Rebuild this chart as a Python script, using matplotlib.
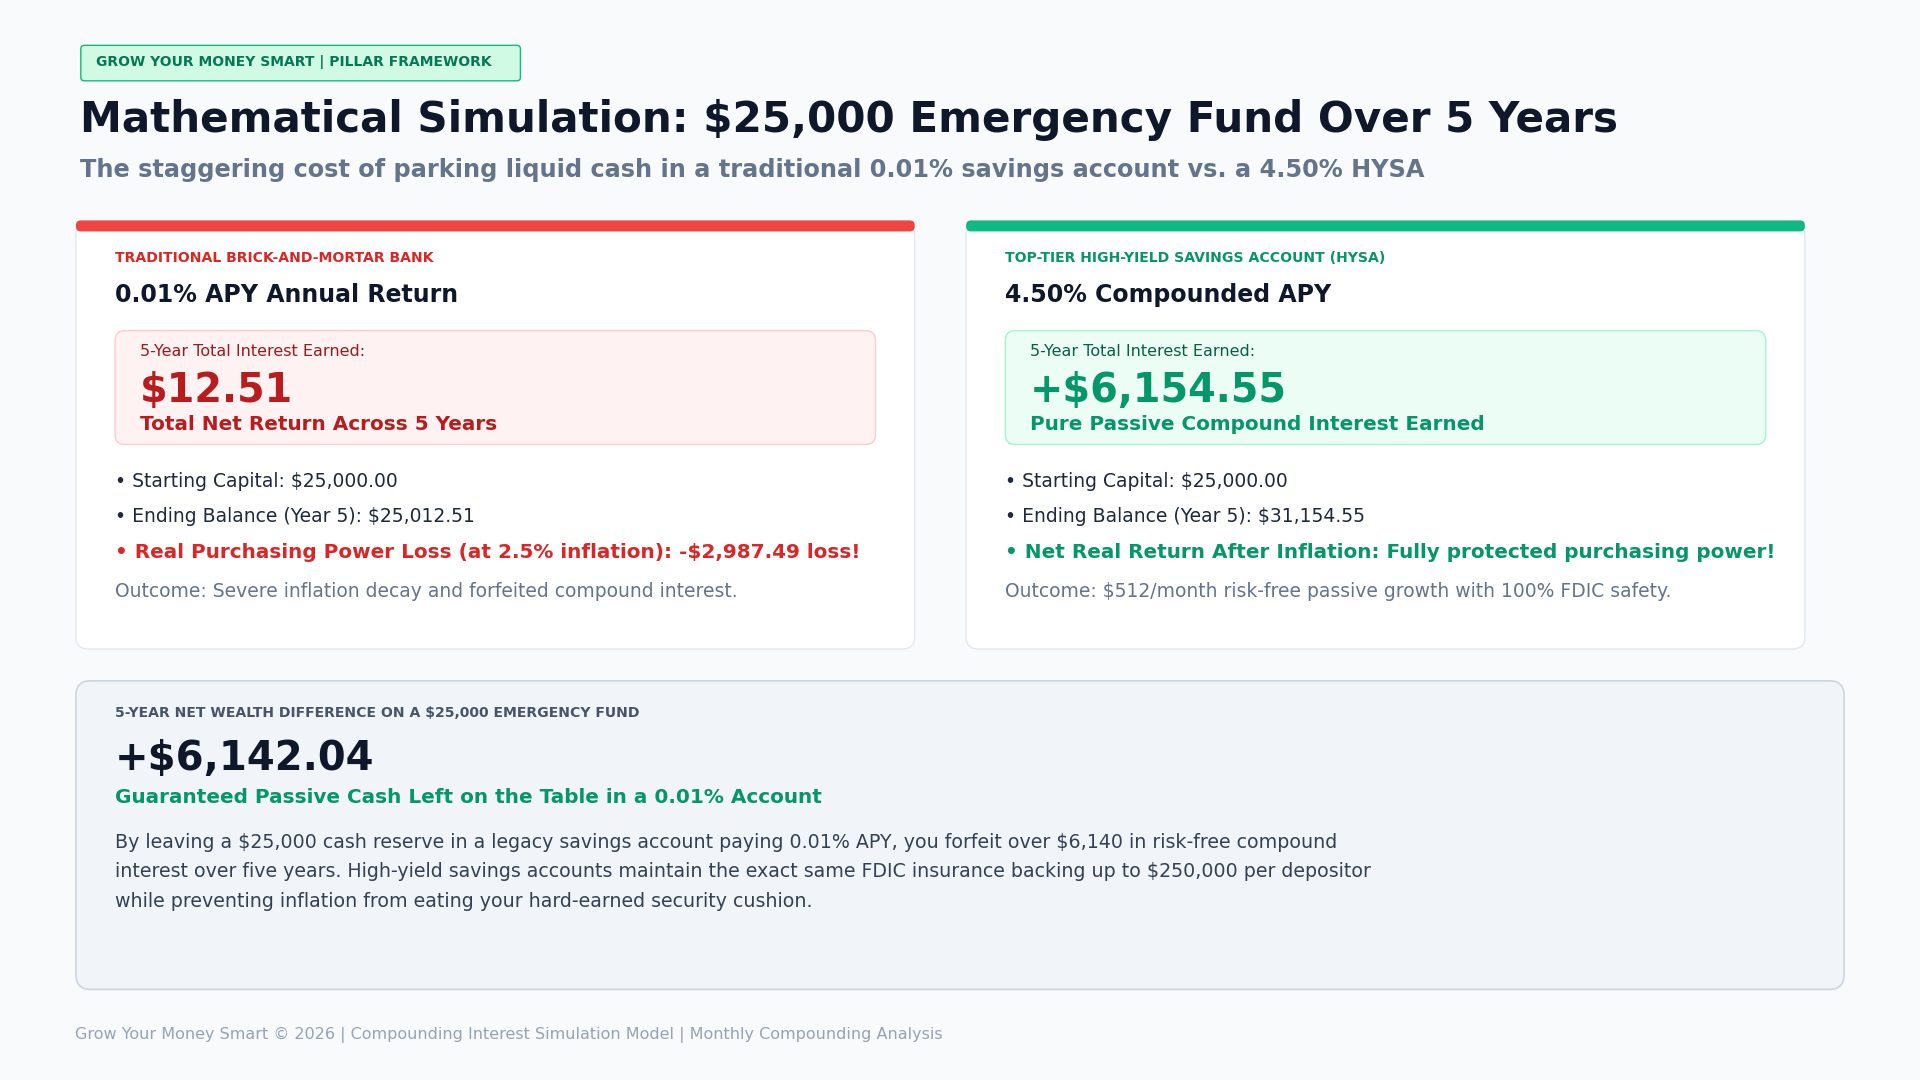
import matplotlib
matplotlib.use("Agg")
import matplotlib.pyplot as plt
from matplotlib.patches import FancyBboxPatch

badge = "GROW YOUR MONEY SMART | PILLAR FRAMEWORK"
title = "Mathematical Simulation: $25,000 Emergency Fund Over 5 Years"
subtitle = "The staggering cost of parking liquid cash in a traditional 0.01% savings account vs. a 4.50% HYSA"
card_labels = ["TRADITIONAL BRICK-AND-MORTAR BANK", "TOP-TIER HIGH-YIELD SAVINGS ACCOUNT (HYSA)"]
card_heads = ["0.01% APY Annual Return", "4.50% Compounded APY"]
card_values = ["$12.51", "+$6,154.55"]
card_subs = ["Total Net Return Across 5 Years", "Pure Passive Compound Interest Earned"]
start_lines = ["• Starting Capital: $25,000.00", "• Starting Capital: $25,000.00"]
end_lines = ["• Ending Balance (Year 5): $25,012.51", "• Ending Balance (Year 5): $31,154.55"]
key_lines = ["• Real Purchasing Power Loss (at 2.5% inflation): -$2,987.49 loss!",
             "• Net Real Return After Inflation: Fully protected purchasing power!"]
outcomes = ["Outcome: Severe inflation decay and forfeited compound interest.",
            "Outcome: $512/month risk-free passive growth with 100% FDIC safety."]
diff_label = "5-YEAR NET WEALTH DIFFERENCE ON A $25,000 EMERGENCY FUND"
diff_value = "+$6,142.04"
diff_sub = "Guaranteed Passive Cash Left on the Table in a 0.01% Account"
diff_body = ["By leaving a $25,000 cash reserve in a legacy savings account paying 0.01% APY, you forfeit over $6,140 in risk-free compound",
             "interest over five years. High-yield savings accounts maintain the exact same FDIC insurance backing up to $250,000 per depositor",
             "while preventing inflation from eating your hard-earned security cushion."]
footer = "Grow Your Money Smart © 2026 | Compounding Interest Simulation Model | Monthly Compounding Analysis"

W, H = 1568, 882
fig = plt.figure(figsize=(19.2, 10.8), dpi=100)
fig.patch.set_facecolor("#f8fafc")
ax = fig.add_axes([0, 0, 1, 1])
ax.set_xlim(0, W); ax.set_ylim(H, 0); ax.axis("off")
F = 0.8816

def box(x, y, w, h, fc, ec, r=8, lw=1):
    ax.add_patch(FancyBboxPatch((x, y), w, h, boxstyle=f"round,pad=0,rounding_size={r}",
                                fc=fc, ec=ec, lw=lw))

def t(x, y, s, px, c, w="normal", fam="DejaVu Sans"):
    ax.text(x, y, s, fontsize=px*F, color=c, fontweight=w, va="center", ha="left",
            family=fam, parse_math=False)

box(66, 37, 359, 29, "#d1fae5", "#10b981", r=3)
t(78, 51, badge, 11.35, "#047857", "bold")
t(65, 98, title, 34.4, "#0f172a", "bold")
t(65, 139, subtitle, 19.6, "#64748b", "bold")

accents = ["#ef4444", "#10b981"]
labc = ["#dc2626", "#059669"]
pfc = ["#fef2f2", "#ecfdf5"]
pec = ["#fecaca", "#a7f3d0"]
valc = ["#b91c1c", "#059669"]
small = ["#991b1b", "#065f46"]
keyc = ["#dc2626", "#059669"]
for i, x0 in enumerate([62, 789]):
    box(x0, 182, 685, 348, "white", "#e2e8f0", r=10)
    box(x0, 180, 685, 9, accents[i], "none", r=4)
    t(x0 + 32, 211, card_labels[i], 11.4, labc[i], "bold")
    t(x0 + 32, 241, card_heads[i], 19.3, "#0f172a", "bold")
    box(x0 + 32, 270, 621, 93, pfc[i], pec[i], r=8)
    t(x0 + 52, 287, "5-Year Total Interest Earned:", 13.1, small[i])
    t(x0 + 52, 319, card_values[i], 32.5, valc[i], "bold")
    t(x0 + 52, 347, card_subs[i], 16.3, valc[i], "bold")
    t(x0 + 32, 393, start_lines[i], 15.3, "#1e293b")
    t(x0 + 32, 422, end_lines[i], 15.3, "#1e293b")
    t(x0 + 32, 451, key_lines[i], 16.3, keyc[i], "bold")
    t(x0 + 32, 483, outcomes[i], 15.3, "#64748b")

box(62, 556, 1444, 252, "#f1f5f9", "#cbd5e1", r=12, lw=1.2)
t(94, 582, diff_label, 11.4, "#475569", "bold")
t(94, 620, diff_value, 32.8, "#0f172a", "bold")
t(94, 651, diff_sub, 16.3, "#059669", "bold")
for k, line in enumerate(diff_body):
    t(94, 688 + 24 * k, line, 15.5, "#334155")
t(61, 845, footer, 13.1, "#94a3b8")

fig.savefig("out.png", dpi=100, facecolor=fig.get_facecolor())
